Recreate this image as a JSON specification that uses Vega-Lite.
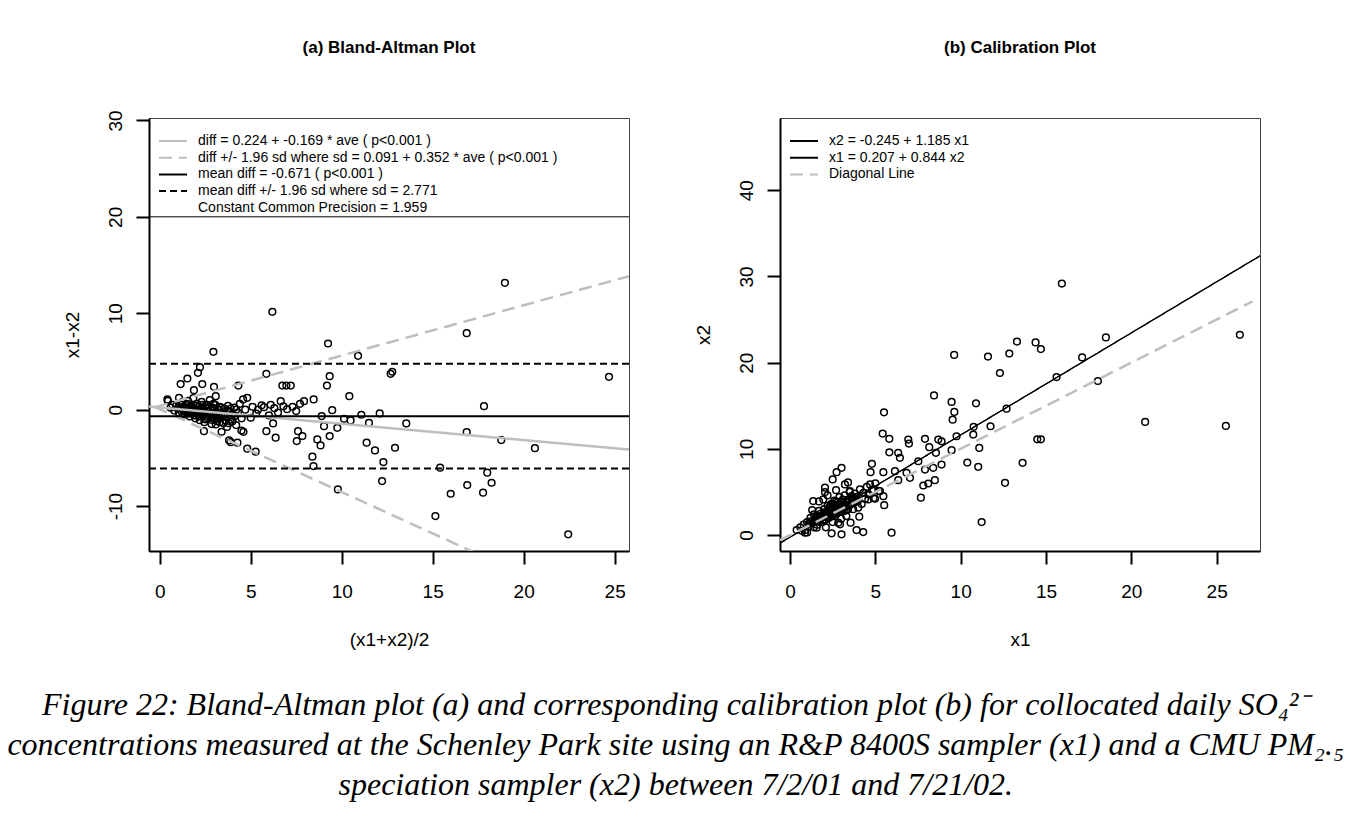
{
"$schema": "https://vega.github.io/schema/vega-lite/v6.json",
"background": "white",
"padding": {"left": 7, "top": 38, "right": 5, "bottom": 5},
"datasets": {
"ba": [
{"ave":6.19,"diff":10.15},{"ave":9.25,"diff":6.86},{"ave":2.95,"diff":6.0},{"ave":10.9,"diff":5.58},{"ave":2.21,"diff":4.41},{"ave":2.1,"diff":3.82},{"ave":1.52,"diff":3.23},{"ave":1.15,"diff":2.65},{"ave":2.34,"diff":2.65},{"ave":1.88,"diff":2.02},{"ave":2.98,"diff":2.37},{"ave":4.32,"diff":2.5},{"ave":5.86,"diff":3.72},{"ave":9.34,"diff":3.47},{"ave":9.19,"diff":2.5},{"ave":12.69,"diff":3.72},{"ave":12.78,"diff":3.93},{"ave":6.74,"diff":2.5},{"ave":6.96,"diff":2.5},{"ave":7.2,"diff":2.5},{"ave":10.42,"diff":1.4},{"ave":8.46,"diff":1.06},{"ave":7.93,"diff":0.88},{"ave":7.71,"diff":0.61},{"ave":4.81,"diff":1.23},{"ave":4.58,"diff":1.06},{"ave":3.08,"diff":1.4},{"ave":0.42,"diff":1.06},{"ave":1.06,"diff":1.23},{"ave":6.65,"diff":0.88},{"ave":5.73,"diff":0.26},{"ave":9.48,"diff":-0.05},{"ave":8.9,"diff":-0.67},{"ave":10.13,"diff":-0.95},{"ave":10.49,"diff":-1.12},{"ave":11.08,"diff":-0.53},{"ave":12.09,"diff":-0.39},{"ave":11.5,"diff":-1.36},{"ave":9.03,"diff":-1.71},{"ave":9.76,"diff":-1.88},{"ave":6.23,"diff":-1.43},{"ave":5.86,"diff":-2.23},{"ave":6.37,"diff":-2.91},{"ave":7.6,"diff":-2.23},{"ave":7.84,"diff":-2.74},{"ave":7.53,"diff":-3.26},{"ave":8.66,"diff":-3.09},{"ave":8.84,"diff":-3.71},{"ave":9.34,"diff":-2.74},{"ave":11.37,"diff":-3.43},{"ave":11.83,"diff":-4.23},{"ave":12.93,"diff":-3.95},{"ave":8.39,"diff":-4.88},{"ave":4.49,"diff":-2.16},{"ave":3.4,"diff":-2.29},{"ave":3.81,"diff":-3.19},{"ave":3.9,"diff":-3.37},{"ave":4.27,"diff":-3.43},{"ave":4.81,"diff":-4.05},{"ave":5.27,"diff":-4.36},{"ave":2.43,"diff":-2.23},{"ave":3.08,"diff":-1.53},{"ave":5.0,"diff":-0.84},
{"ave":18.97,"diff":13.15},{"ave":16.87,"diff":7.93},{"ave":24.69,"diff":3.41},{"ave":17.82,"diff":0.36},{"ave":13.55,"diff":-1.43},{"ave":16.87,"diff":-2.33},{"ave":18.77,"diff":-3.16},{"ave":20.62,"diff":-3.99},
{"ave":8.45,"diff":-5.85},{"ave":9.79,"diff":-8.27},{"ave":12.29,"diff":-5.44},{"ave":12.22,"diff":-7.41},{"ave":15.41,"diff":-6.02},{"ave":15.15,"diff":-11.04},{"ave":15.99,"diff":-8.72},{"ave":16.9,"diff":-7.82},{"ave":17.77,"diff":-8.61},{"ave":18.0,"diff":-6.54},{"ave":18.24,"diff":-7.58},{"ave":22.45,"diff":-12.93},
{"ave":0.45,"diff":0.9},{"ave":0.6,"diff":0.2},{"ave":0.7,"diff":0.5},{"ave":0.8,"diff":-0.1},{"ave":0.9,"diff":0.4},{"ave":1.0,"diff":0.1},{"ave":1.05,"diff":-0.3},{"ave":1.1,"diff":0.6},{"ave":1.15,"diff":0.2},{"ave":1.2,"diff":-0.2},{"ave":1.25,"diff":0.8},{"ave":1.3,"diff":0.3},{"ave":1.35,"diff":-0.5},{"ave":1.4,"diff":0.0},{"ave":1.45,"diff":0.5},{"ave":1.5,"diff":-0.3},{"ave":1.55,"diff":0.9},{"ave":1.6,"diff":0.2},{"ave":1.65,"diff":-0.7},{"ave":1.7,"diff":-0.1},{"ave":1.75,"diff":0.4},{"ave":1.8,"diff":-0.4},{"ave":1.85,"diff":1.2},{"ave":1.9,"diff":0.1},{"ave":1.95,"diff":-0.9},{"ave":2.0,"diff":-0.2},{"ave":2.05,"diff":0.6},{"ave":2.1,"diff":-0.5},{"ave":2.15,"diff":0.3},{"ave":2.2,"diff":-1.1},{"ave":2.25,"diff":-0.3},{"ave":2.3,"diff":0.8},{"ave":2.35,"diff":-0.6},{"ave":2.4,"diff":0.0},{"ave":2.45,"diff":-1.3},{"ave":2.5,"diff":0.4},{"ave":2.55,"diff":-0.4},{"ave":2.6,"diff":-0.9},{"ave":2.65,"diff":0.1},{"ave":2.7,"diff":-0.2},{"ave":2.75,"diff":1.0},{"ave":2.8,"diff":-0.7},{"ave":2.85,"diff":-1.5},{"ave":2.9,"diff":0.2},{"ave":2.95,"diff":-0.3},{"ave":3.0,"diff":-1.0},{"ave":3.05,"diff":0.5},{"ave":3.1,"diff":-0.5},{"ave":3.15,"diff":-1.2},{"ave":3.2,"diff":0.0},{"ave":3.25,"diff":-0.8},{"ave":3.3,"diff":0.3},{"ave":3.4,"diff":-0.4},{"ave":3.5,"diff":-1.4},{"ave":3.55,"diff":0.1},{"ave":3.6,"diff":-0.7},{"ave":3.7,"diff":-1.8},{"ave":3.75,"diff":0.4},{"ave":3.8,"diff":-0.2},{"ave":3.9,"diff":-1.0},{"ave":4.0,"diff":-0.5},{"ave":4.1,"diff":0.2},{"ave":4.2,"diff":-1.6},{"ave":4.3,"diff":-0.3},{"ave":4.4,"diff":0.6},{"ave":4.5,"diff":-0.9},{"ave":4.6,"diff":-2.3},{"ave":4.7,"diff":0.0},
{"ave":5.1,"diff":0.3},{"ave":5.4,"diff":0.0},{"ave":5.6,"diff":0.45},{"ave":6.0,"diff":-0.6},{"ave":6.3,"diff":0.15},{"ave":6.5,"diff":-0.3},{"ave":6.8,"diff":0.35},{"ave":7.0,"diff":0.05},{"ave":7.3,"diff":0.3},{"ave":7.5,"diff":-0.15},{"ave":6.1,"diff":0.5},{"ave":5.3,"diff":-0.4},
{"ave":1.2,"diff":0.5},{"ave":1.3,"diff":-0.1},{"ave":1.5,"diff":0.6},{"ave":1.6,"diff":-0.4},{"ave":1.7,"diff":0.3},{"ave":1.8,"diff":0.0},{"ave":1.9,"diff":-0.6},{"ave":2.0,"diff":0.4},{"ave":2.1,"diff":0.0},{"ave":2.2,"diff":-0.7},{"ave":2.3,"diff":0.2},{"ave":2.4,"diff":-0.3},{"ave":2.5,"diff":-1.0},{"ave":2.6,"diff":0.5},{"ave":2.7,"diff":-0.5},{"ave":2.8,"diff":0.0},{"ave":2.9,"diff":-1.1},{"ave":3.0,"diff":0.1},{"ave":3.1,"diff":-0.8},{"ave":3.2,"diff":-0.3},{"ave":3.3,"diff":-1.3},{"ave":3.4,"diff":0.2},{"ave":3.5,"diff":-0.6},{"ave":3.6,"diff":-1.1},{"ave":3.7,"diff":-0.1},{"ave":3.8,"diff":-1.4},{"ave":3.9,"diff":0.1},{"ave":4.0,"diff":-1.2},{"ave":4.1,"diff":-0.7},{"ave":4.2,"diff":0.0},{"ave":2.05,"diff":-0.1},{"ave":2.35,"diff":0.5},{"ave":2.65,"diff":-0.7},{"ave":2.95,"diff":0.6},{"ave":3.35,"diff":-0.9},{"ave":1.45,"diff":-0.1},{"ave":1.75,"diff":-0.2},{"ave":2.15,"diff":-0.3},{"ave":2.55,"diff":0.15},{"ave":3.05,"diff":-0.4}
],
"cal": [
{"x1":12.3,"x2":18.8},{"x1":8.44,"x2":16.2},{"x1":9.47,"x2":15.44},{"x1":10.9,"x2":15.28},{"x1":9.63,"x2":14.28},{"x1":9.53,"x2":13.39},{"x1":5.51,"x2":14.24},{"x1":12.69,"x2":14.66},{"x1":10.76,"x2":12.55},{"x1":10.74,"x2":11.66},{"x1":11.75,"x2":12.62},{"x1":5.43,"x2":11.77},{"x1":5.82,"x2":11.16},{"x1":6.93,"x2":11.08},{"x1":6.97,"x2":10.61},{"x1":7.91,"x2":11.16},{"x1":8.69,"x2":11.08},{"x1":8.88,"x2":10.88},{"x1":9.76,"x2":11.46},{"x1":8.16,"x2":10.19},{"x1":8.55,"x2":9.54},{"x1":9.47,"x2":9.84},{"x1":11.09,"x2":10.11},{"x1":10.39,"x2":8.41},{"x1":11.03,"x2":7.92},{"x1":12.6,"x2":6.06},{"x1":11.23,"x2":1.5},{"x1":13.63,"x2":8.38},{"x1":5.82,"x2":9.6},{"x1":6.34,"x2":9.54},{"x1":6.44,"x2":8.96},{"x1":4.8,"x2":8.26},{"x1":4.72,"x2":7.29},{"x1":5.47,"x2":7.29},{"x1":6.15,"x2":7.41},{"x1":6.34,"x2":6.37},{"x1":6.83,"x2":7.22},{"x1":7.03,"x2":6.64},{"x1":7.52,"x2":8.56},{"x1":7.91,"x2":7.6},{"x1":8.39,"x2":7.8},{"x1":8.88,"x2":8.18},{"x1":7.81,"x2":5.75},{"x1":8.1,"x2":5.98},{"x1":8.49,"x2":6.37},{"x1":7.67,"x2":4.33},{"x1":5.95,"x2":0.28},{"x1":3.02,"x2":7.8},{"x1":2.73,"x2":7.29},{"x1":2.5,"x2":6.45},{"x1":2.05,"x2":5.49},{"x1":2.05,"x2":4.99},{"x1":3.22,"x2":5.87},{"x1":3.51,"x2":5.09},{"x1":3.61,"x2":4.51},{"x1":4.69,"x2":5.87},{"x1":4.88,"x2":5.29},{"x1":5.27,"x2":5.09},{"x1":5.47,"x2":4.51},{"x1":5.52,"x2":3.47},{"x1":4.59,"x2":4.13},{"x1":4.98,"x2":4.21},{"x1":4.0,"x2":3.17},{"x1":4.06,"x2":2.13},{"x1":3.55,"x2":1.44},{"x1":3.9,"x2":0.58},{"x1":4.29,"x2":0.35},{"x1":3.02,"x2":0.08},{"x1":2.44,"x2":0.2},{"x1":2.83,"x2":1.44},{"x1":2.93,"x2":1.24},{"x1":1.56,"x2":0.86},{"x1":0.88,"x2":0.28},{"x1":0.39,"x2":0.58},{"x1":1.36,"x2":3.94},{"x1":1.95,"x2":4.13},
{"x1":15.93,"x2":29.17},{"x1":13.3,"x2":22.45},{"x1":12.85,"x2":21.06},{"x1":14.39,"x2":22.34},{"x1":14.7,"x2":21.57},{"x1":18.51,"x2":22.92},{"x1":17.12,"x2":20.6},{"x1":15.62,"x2":18.33},{"x1":18.04,"x2":17.87},{"x1":14.49,"x2":11.11},{"x1":14.7,"x2":11.11},{"x1":20.81,"x2":13.12},{"x1":25.54,"x2":12.66},{"x1":26.36,"x2":23.23},{"x1":9.62,"x2":20.9},{"x1":11.6,"x2":20.7},
{"x1":0.6,"x2":0.9},{"x1":0.8,"x2":1.2},{"x1":0.9,"x2":0.6},{"x1":1.0,"x2":1.5},{"x1":1.1,"x2":1.0},{"x1":1.2,"x2":2.0},{"x1":1.3,"x2":1.4},{"x1":1.4,"x2":0.9},{"x1":1.4,"x2":2.4},{"x1":1.5,"x2":1.7},{"x1":1.6,"x2":2.2},{"x1":1.6,"x2":1.2},{"x1":1.7,"x2":2.8},{"x1":1.8,"x2":1.9},{"x1":1.8,"x2":2.5},{"x1":1.9,"x2":1.5},{"x1":2.0,"x2":2.2},{"x1":2.0,"x2":3.0},{"x1":2.1,"x2":2.6},{"x1":2.1,"x2":1.8},{"x1":2.2,"x2":3.4},{"x1":2.2,"x2":2.3},{"x1":2.3,"x2":2.9},{"x1":2.3,"x2":2.0},{"x1":2.4,"x2":3.6},{"x1":2.4,"x2":2.6},{"x1":2.5,"x2":3.1},{"x1":2.5,"x2":2.2},{"x1":2.6,"x2":4.0},{"x1":2.6,"x2":2.8},{"x1":2.7,"x2":3.3},{"x1":2.7,"x2":2.4},{"x1":2.8,"x2":3.8},{"x1":2.8,"x2":2.9},{"x1":2.9,"x2":3.4},{"x1":2.9,"x2":4.4},{"x1":3.0,"x2":2.7},{"x1":3.0,"x2":3.9},{"x1":3.1,"x2":3.2},{"x1":3.2,"x2":4.6},{"x1":3.2,"x2":3.6},{"x1":3.3,"x2":2.9},{"x1":3.4,"x2":4.1},{"x1":3.5,"x2":3.5},{"x1":3.5,"x2":5.0},{"x1":3.6,"x2":4.3},{"x1":3.7,"x2":3.0},{"x1":3.8,"x2":4.8},{"x1":3.9,"x2":3.9},{"x1":4.0,"x2":4.5},{"x1":4.1,"x2":5.3},{"x1":4.2,"x2":3.6},{"x1":4.3,"x2":4.9},{"x1":4.4,"x2":4.2},{"x1":4.5,"x2":5.6},{"x1":4.6,"x2":4.7},{"x1":1.7,"x2":3.9},{"x1":2.2,"x2":4.6},{"x1":2.7,"x2":5.2},{"x1":3.4,"x2":6.1},{"x1":2.1,"x2":0.9},{"x1":2.5,"x2":1.5},{"x1":3.0,"x2":1.9},{"x1":3.3,"x2":2.2},{"x1":0.7,"x2":0.5},{"x1":1.0,"x2":0.3},{"x1":1.3,"x2":2.9},{"x1":4.8,"x2":5.2},{"x1":5.0,"x2":6.0},{"x1":5.2,"x2":5.1},{"x1":4.9,"x2":4.3},
{"x1":1.2,"x2":1.6},{"x1":1.5,"x2":2.0},{"x1":1.7,"x2":1.6},{"x1":1.9,"x2":2.3},{"x1":2.0,"x2":1.7},{"x1":2.2,"x2":2.7},{"x1":2.3,"x2":2.4},{"x1":2.4,"x2":3.0},{"x1":2.5,"x2":2.6},{"x1":2.6,"x2":3.4},{"x1":2.7,"x2":2.9},{"x1":2.8,"x2":3.5},{"x1":2.9,"x2":3.0},{"x1":3.0,"x2":3.5},{"x1":3.1,"x2":3.0},{"x1":3.1,"x2":4.1},{"x1":3.2,"x2":3.3},{"x1":3.3,"x2":3.8},{"x1":3.4,"x2":3.4},{"x1":3.5,"x2":4.1},{"x1":3.6,"x2":3.6},{"x1":3.7,"x2":4.4},{"x1":3.8,"x2":3.8},{"x1":3.9,"x2":4.4},{"x1":4.0,"x2":4.0},{"x1":2.0,"x2":2.6},{"x1":2.2,"x2":2.0},{"x1":2.4,"x2":2.2},{"x1":2.6,"x2":2.5},{"x1":2.8,"x2":2.6},{"x1":3.0,"x2":3.1},{"x1":3.2,"x2":2.8},{"x1":3.4,"x2":3.0},{"x1":1.8,"x2":2.1},{"x1":1.6,"x2":1.9},{"x1":1.4,"x2":1.5},{"x1":1.1,"x2":1.3},{"x1":2.3,"x2":3.2},{"x1":2.5,"x2":3.6},{"x1":2.7,"x2":3.9}
],
"balines": [
{"series":"diff = 0.224 + -0.169 * ave ( p<0.001 )","grp":"gray","seg":"r","ave":-0.59,"diff":0.324},
{"series":"diff = 0.224 + -0.169 * ave ( p<0.001 )","grp":"gray","seg":"r","ave":25.79,"diff":-4.135},
{"series":"diff +/- 1.96 sd where sd = 0.091 + 0.352 * ave ( p<0.001 )","grp":"gray","seg":"u","ave":-0.26,"diff":0.267},
{"series":"diff +/- 1.96 sd where sd = 0.091 + 0.352 * ave ( p<0.001 )","grp":"gray","seg":"u","ave":25.79,"diff":13.84},
{"series":"diff +/- 1.96 sd where sd = 0.091 + 0.352 * ave ( p<0.001 )","grp":"gray","seg":"l","ave":-0.26,"diff":0.269},
{"series":"diff +/- 1.96 sd where sd = 0.091 + 0.352 * ave ( p<0.001 )","grp":"gray","seg":"l","ave":17.5,"diff":-14.99},
{"series":"mean diff = -0.671 ( p<0.001 )","grp":"black","seg":"m","ave":-0.59,"diff":-0.671},
{"series":"mean diff = -0.671 ( p<0.001 )","grp":"black","seg":"m","ave":25.79,"diff":-0.671},
{"series":"mean diff +/- 1.96 sd where sd = 2.771","grp":"black","seg":"u","ave":-0.59,"diff":4.76},
{"series":"mean diff +/- 1.96 sd where sd = 2.771","grp":"black","seg":"u","ave":25.79,"diff":4.76},
{"series":"mean diff +/- 1.96 sd where sd = 2.771","grp":"black","seg":"l","ave":-0.59,"diff":-6.102},
{"series":"mean diff +/- 1.96 sd where sd = 2.771","grp":"black","seg":"l","ave":25.79,"diff":-6.102}
],
"callines": [
{"line":"x2 = -0.245 + 1.185 x1","grp":"black","x1":-0.59,"x2":-0.944},
{"line":"x2 = -0.245 + 1.185 x1","grp":"black","x1":27.54,"x2":32.39},
{"line":"x1 = 0.207 + 0.844 x2","grp":"black","x1":-0.59,"x2":-0.944},
{"line":"x1 = 0.207 + 0.844 x2","grp":"black","x1":27.54,"x2":32.385},
{"line":"Diagonal Line","grp":"gray","x1":-0.59,"x2":-0.59},
{"line":"Diagonal Line","grp":"gray","x1":27.1,"x2":27.1}
]
},
"config": {
"font": "Liberation Sans",
"view": {"stroke": "#444444", "strokeWidth": 1},
"axis": {"grid": false, "domain": true, "domainColor": "black", "domainWidth": 2, "tickColor": "black", "tickWidth": 2, "tickSize": 13, "labelFont": "Liberation Sans", "labelFontSize": 19, "labelColor": "black", "titleFont": "Liberation Sans", "titleFontSize": 19, "titleFontWeight": "normal", "titleColor": "black", "labelExpr": "'' + datum.value"},
"axisX": {"labelPadding": 18, "titlePadding": 29, "labelAngle": 0},
"axisY": {"labelAngle": -90, "labelAlign": "center", "labelBaseline": "bottom", "labelPadding": 10.5, "titlePadding": 24},
"legend": {"orient": "top-left", "offset": 6, "padding": 10, "symbolType": "M-1,0H4.6", "symbolSize": 100, "symbolStrokeWidth": 2, "symbolOffset": -8, "labelFont": "Liberation Sans", "labelFontSize": 14, "labelColor": "black", "labelLimit": 800, "rowPadding": 2.7, "labelOffset": 27},
"title": {"font": "Liberation Sans", "fontSize": 17, "fontWeight": "bold", "color": "black"}
},
"spacing": 63,
"resolve": {"scale": {"color": "independent", "strokeDash": "independent"}, "legend": {"color": "independent", "strokeDash": "independent"}},
"title": {
"text": ["Figure 22: Bland-Altman plot (a) and corresponding calibration plot (b) for collocated daily SO₄²⁻", "concentrations measured at the Schenley Park site using an R&P 8400S sampler (x1) and a CMU PM₂.₅", "speciation sampler (x2) between 7/2/01 and 7/21/02."],
"orient": "bottom", "anchor": "middle", "dx": 14, "font": "Liberation Serif", "fontStyle": "italic", "fontWeight": "normal", "fontSize": 32, "lineHeight": 40, "offset": 40, "color": "black"
},
"hconcat": [
{
"width": 480, "height": 433,
"title": {"text": "(a) Bland-Altman Plot", "offset": 53},
"layer": [
{"data": {"name": "ba"}, "mark": {"type": "point", "shape": "circle", "filled": false, "stroke": "black", "strokeWidth": 1.5, "size": 45, "opacity": 1},
"encoding": {
"x": {"field": "ave", "type": "quantitative", "scale": {"domain": [-0.59, 25.79], "nice": false, "zero": false}, "axis": {"title": "(x1+x2)/2", "values": [0,5,10,15,20,25]}},
"y": {"field": "diff", "type": "quantitative", "scale": {"domain": [-14.66, 30.25], "nice": false, "zero": false}, "axis": {"title": "x1-x2", "values": [-10,0,10,20,30]}}
}},
{"data": {"name": "balines"}, "transform": [{"filter": "datum.grp == 'gray'"}], "mark": {"type": "line", "strokeWidth": 2.5, "clip": true},
"encoding": {
"x": {"field": "ave", "type": "quantitative"},
"y": {"field": "diff", "type": "quantitative"},
"detail": {"field": "seg"},
"color": {"field": "series", "type": "nominal", "scale": {"domain": ["diff = 0.224 + -0.169 * ave ( p<0.001 )","diff +/- 1.96 sd where sd = 0.091 + 0.352 * ave ( p<0.001 )","mean diff = -0.671 ( p<0.001 )","mean diff +/- 1.96 sd where sd = 2.771","Constant Common Precision = 1.959"], "range": ["#BEBEBE","#BEBEBE","black","black","transparent"]}, "legend": {"title": null}},
"strokeDash": {"field": "series", "type": "nominal", "scale": {"domain": ["diff = 0.224 + -0.169 * ave ( p<0.001 )","diff +/- 1.96 sd where sd = 0.091 + 0.352 * ave ( p<0.001 )","mean diff = -0.671 ( p<0.001 )","mean diff +/- 1.96 sd where sd = 2.771","Constant Common Precision = 1.959"], "range": [[1,0],[13,7],[1,0],[7,4],[1,0]]}, "legend": {"title": null}}
}},
{"data": {"name": "balines"}, "transform": [{"filter": "datum.grp == 'black'"}], "mark": {"type": "line", "strokeWidth": 2, "clip": true},
"encoding": {
"x": {"field": "ave", "type": "quantitative"},
"y": {"field": "diff", "type": "quantitative"},
"detail": {"field": "seg"},
"color": {"field": "series", "type": "nominal", "legend": {"title": null}},
"strokeDash": {"field": "series", "type": "nominal", "legend": {"title": null}}
}},
{"data": {"values": [{}]}, "mark": {"type": "rule", "stroke": "black", "strokeWidth": 1}, "encoding": {"y": {"datum": 20}}}
]
},
{
"width": 480, "height": 433,
"title": {"text": "(b) Calibration Plot", "offset": 61},
"layer": [
{"data": {"name": "cal"}, "mark": {"type": "point", "shape": "circle", "filled": false, "stroke": "black", "strokeWidth": 1.5, "size": 45, "opacity": 1},
"encoding": {
"x": {"field": "x1", "type": "quantitative", "scale": {"domain": [-0.586, 27.54], "nice": false, "zero": false}, "axis": {"title": "x1", "values": [0,5,10,15,20,25]}},
"y": {"field": "x2", "type": "quantitative", "scale": {"domain": [-1.85, 48.38], "nice": false, "zero": false}, "axis": {"title": "x2", "values": [0,10,20,30,40]}}
}},
{"data": {"name": "callines"}, "transform": [{"filter": "datum.grp == 'black'"}], "mark": {"type": "line", "strokeWidth": 1.2, "clip": true},
"encoding": {
"x": {"field": "x1", "type": "quantitative"},
"y": {"field": "x2", "type": "quantitative"},
"color": {"field": "line", "type": "nominal", "scale": {"domain": ["x2 = -0.245 + 1.185 x1","x1 = 0.207 + 0.844 x2","Diagonal Line"], "range": ["black","black","#BEBEBE"]}, "legend": {"title": null}},
"strokeDash": {"field": "line", "type": "nominal", "scale": {"domain": ["x2 = -0.245 + 1.185 x1","x1 = 0.207 + 0.844 x2","Diagonal Line"], "range": [[1,0],[1,0],[13,7]]}, "legend": {"title": null}}
}},
{"data": {"name": "callines"}, "transform": [{"filter": "datum.grp == 'gray'"}], "mark": {"type": "line", "strokeWidth": 2.5, "clip": true},
"encoding": {
"x": {"field": "x1", "type": "quantitative"},
"y": {"field": "x2", "type": "quantitative"},
"color": {"field": "line", "type": "nominal", "legend": {"title": null}},
"strokeDash": {"field": "line", "type": "nominal", "legend": {"title": null}}
}}
]
}
]
}
